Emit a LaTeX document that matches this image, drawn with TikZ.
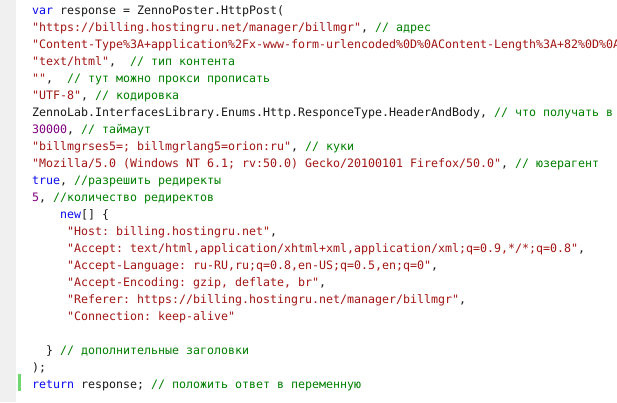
\documentclass[tikz,border=0pt]{standalone}
\usepackage{fontspec}
\setmonofont{DejaVu Sans Mono}
\definecolor{kwcol}{RGB}{10,10,240}
\definecolor{strcol}{RGB}{163,21,21}
\definecolor{numcol}{RGB}{128,0,128}
\definecolor{cmtcol}{RGB}{0,128,0}
\definecolor{plaincol}{RGB}{25,25,25}
\definecolor{guttercol}{RGB}{240,240,240}
\definecolor{markcol}{RGB}{110,215,110}
\newcommand\ckw[1]{\textcolor{kwcol}{#1}}
\newcommand\cstr[1]{\textcolor{strcol}{#1}}
\newcommand\cnum[1]{\textcolor{numcol}{#1}}
\newcommand\ccmt[1]{\textcolor{cmtcol}{#1}}
\tikzset{
  codeline/.style={anchor=base west, inner sep=0pt, outer sep=0pt, text=plaincol,
    font=\ttfamily\fontsize{11.63}{14}\selectfont\frenchspacing},
  gutterbox/.style={fill=guttercol, draw=none},
  changebar/.style={fill=markcol, draw=none}
}
\begin{document}
\begin{tikzpicture}[x=1pt,y=-1pt]
\fill[white] (0,0) rectangle (617,402);
\useasboundingbox (0,0) rectangle (617,402);
\clip (0,0) rectangle (617,402);
\path[gutterbox] (0,0) rectangle (16,402);
\path[changebar] (18,374) rectangle (21,391);
\node[codeline] (l1) at (32,14) {\ckw{var} response = ZennoPoster.HttpPost(};
\node[codeline] (l2) at (32,31) {\cstr{"https://billing.hostingru.net/manager/billmgr"}, \ccmt{// адрес}};
\node[codeline] (l3) at (32,48) {\cstr{"Content-Type\%3A+application\%2Fx-www-form-urlencoded\%0D\%0AContent-Length\%3A+82\%0D\%0A}};
\node[codeline] (l4) at (32,65) {\cstr{"text/html"},~~\ccmt{// тип контента}};
\node[codeline] (l5) at (32,82) {\cstr{""},~~\ccmt{// тут можно прокси прописать}};
\node[codeline] (l6) at (32,99) {\cstr{"UTF-8"}, \ccmt{// кодировка}};
\node[codeline] (l7) at (32,116) {ZennoLab.InterfacesLibrary.Enums.Http.ResponceType.HeaderAndBody, \ccmt{// что получать в}};
\node[codeline] (l8) at (32,133) {\cnum{30000}, \ccmt{// таймаут}};
\node[codeline] (l9) at (32,150) {\cstr{"billmgrses5=; billmgrlang5=orion:ru"}, \ccmt{// куки}};
\node[codeline] (l10) at (32,167) {\cstr{"Mozilla/5.0 (Windows NT 6.1; rv:50.0) Gecko/20100101 Firefox/50.0"}, \ccmt{// юзерагент}};
\node[codeline] (l11) at (32,184) {\ckw{true}, \ccmt{//разрешить редиректы}};
\node[codeline] (l12) at (32,201) {\cnum{5}, \ccmt{//количество редиректов}};
\node[codeline] (l13) at (60,218) {\ckw{new}[] \{};
\node[codeline] (l14) at (67,235) {\cstr{"Host: billing.hostingru.net"},};
\node[codeline] (l15) at (67,252) {\cstr{"Accept: text/html,application/xhtml+xml,application/xml;q=0.9,*/*;q=0.8"},};
\node[codeline] (l16) at (67,269) {\cstr{"Accept-Language: ru-RU,ru;q=0.8,en-US;q=0.5,en;q=0"},};
\node[codeline] (l17) at (67,286) {\cstr{"Accept-Encoding: gzip, deflate, br"},};
\node[codeline] (l18) at (67,303) {\cstr{"Referer: https://billing.hostingru.net/manager/billmgr"},};
\node[codeline] (l19) at (67,320) {\cstr{"Connection: keep-alive"}};
\node[codeline] (l21) at (46,354) {\} \ccmt{// дополнительные заголовки}};
\node[codeline] (l22) at (32,371) {);};
\node[codeline] (l23) at (32,388) {\ckw{return} response; \ccmt{// положить ответ в переменную}};
\end{tikzpicture}
\end{document}
